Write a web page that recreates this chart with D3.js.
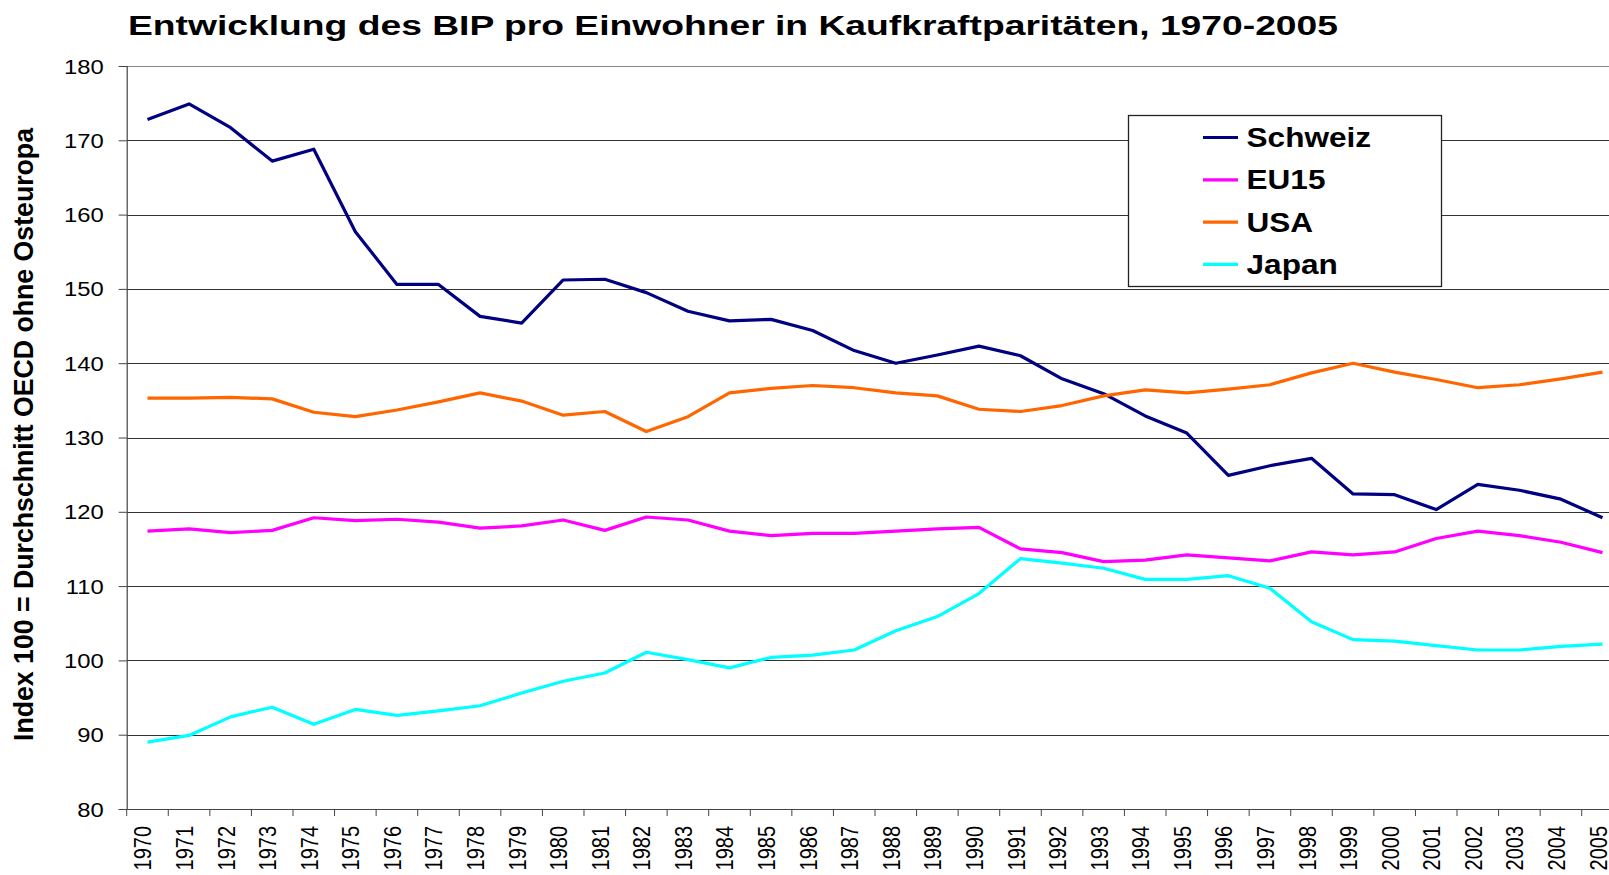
<!DOCTYPE html>
<html>
<head>
<meta charset="utf-8">
<script src="https://cdn.jsdelivr.net/npm/d3@7"></script>
<style>
  html, body { margin: 0; padding: 0; background: #fff; overflow: hidden; }
  svg { display: block; font-family: "Liberation Sans", Arial, sans-serif; }
</style>
</head>
<body>
<svg id="chart" width="1609" height="875"></svg>
<script>
// ---- Data ----
const years = ["1970","1971","1972","1973","1974","1975","1976","1977","1978","1979",
  "1980","1981","1982","1983","1984","1985","1986","1987","1988","1989",
  "1990","1991","1992","1993","1994","1995","1996","1997","1998","1999",
  "2000","2001","2002","2003","2004","2005"];

const schweiz = [172.8,174.9,171.7,167.2,168.8,157.7,150.6,150.6,146.3,145.4,
  151.2,151.3,149.5,147.0,145.7,145.9,144.4,141.7,140.0,141.1,
  142.3,141.0,137.9,135.9,132.9,130.6,124.9,126.2,127.2,122.4,
  122.3,120.3,123.7,122.9,121.7,119.2];

const eu15 = [117.4,117.7,117.2,117.5,119.2,118.8,119.0,118.6,117.8,118.1,
  118.9,117.5,119.3,118.9,117.4,116.8,117.1,117.1,117.4,117.7,
  117.9,115.0,114.5,113.3,113.5,114.2,113.8,113.4,114.6,114.2,
  114.6,116.4,117.4,116.8,115.9,114.5];

const usa = [135.3,135.3,135.4,135.2,133.4,132.8,133.7,134.8,136.0,134.9,
  133.0,133.5,130.8,132.8,136.0,136.6,137.0,136.7,136.0,135.6,
  133.8,133.5,134.3,135.6,136.4,136.0,136.5,137.1,138.7,140.0,
  138.8,137.8,136.7,137.1,137.9,138.8];

const japan = [89.0,89.9,92.4,93.7,91.4,93.4,92.6,93.2,93.9,95.6,
  97.2,98.3,101.1,100.1,99.0,100.4,100.7,101.4,104.0,105.9,
  109.0,113.7,113.1,112.4,110.9,110.9,111.4,109.7,105.2,102.8,
  102.6,102.0,101.4,101.4,101.9,102.2];

const seriesNames = ["Schweiz","EU15","USA","Japan"];
const seriesColors = ["#000080","#FF00FF","#FF6600","#00FFFF"];
const seriesValues = [schweiz, eu15, usa, japan];
const yTicks = [80,90,100,110,120,130,140,150,160,170,180];

const titleText = "Entwicklung des BIP pro Einwohner in Kaufkraftparitäten, 1970-2005";
const yLabelText = "Index 100 = Durchschnitt OECD ohne Osteuropa";

// ---- Layout ----
const svg = d3.select("#chart");
const pLeft = 126.7, pRight = 1623.3, pTop = 66, pBottom = 809;
const SX = 1.19; // horizontal glyph stretch seen in the reference

const x = d3.scaleBand().domain(years).range([pLeft, pRight]).padding(0);
const y = d3.scaleLinear().domain([80, 180]).range([pBottom, pTop]);

// Gridlines
svg.append("g").selectAll("line").data(yTicks.filter(d => d !== 80)).join("line")
  .attr("x1", pLeft).attr("x2", 1609)
  .attr("y1", d => Math.round(y(d)) + 0.5).attr("y2", d => Math.round(y(d)) + 0.5)
  .attr("stroke", d => d === 180 ? "#888" : "#333").attr("stroke-width", 1);

// Y axis
const yAxis = svg.append("g").attr("transform", `translate(${pLeft},0)`)
  .call(d3.axisLeft(y).tickValues(yTicks).tickSize(8).tickPadding(0));
yAxis.select(".domain").attr("stroke", "#444").attr("stroke-width", 1.2);
yAxis.selectAll(".tick line").attr("stroke", "#444");
yAxis.selectAll(".tick text")
  .attr("x", 0).attr("dy", "0.35em")
  .attr("transform", `translate(-23,0) scale(${SX},1)`)
  .attr("font-size", 20).attr("fill", "#000")
  .attr("font-family", "'Liberation Sans', Arial, sans-serif");

// X axis (labels at band centres, ticks at band boundaries)
const xAxis = svg.append("g").attr("transform", `translate(0,${pBottom})`)
  .call(d3.axisBottom(x).tickSize(0).tickPadding(0));
xAxis.select(".domain").attr("stroke", "#444").attr("stroke-width", 1.2);
xAxis.selectAll(".tick text")
  .attr("x", 0).attr("y", 0).attr("dy", 0)
  .attr("text-anchor", "end")
  .attr("transform", `translate(4,17) rotate(-90) scale(1,${SX})`)
  .attr("font-size", 20).attr("fill", "#000")
  .attr("font-family", "'Liberation Sans', Arial, sans-serif");
svg.append("g").selectAll("line").data(years).join("line")
  .attr("x1", d => x(d)).attr("x2", d => x(d))
  .attr("y1", pBottom).attr("y2", pBottom + 7)
  .attr("stroke", "#444").attr("stroke-width", 1);

// Lines
const line = d3.line().x((d, i) => x(years[i]) + x.bandwidth() / 2).y(d => y(d));
seriesValues.forEach((vals, k) => {
  svg.append("path").datum(vals)
    .attr("d", line)
    .attr("fill", "none")
    .attr("stroke", seriesColors[k])
    .attr("stroke-width", 3.2)
    .attr("stroke-linejoin", "round");
});

// Title
svg.append("text")
  .attr("x", 128).attr("y", 35)
  .attr("font-size", 28).attr("font-weight", "bold")
  .attr("textLength", 1210).attr("lengthAdjust", "spacingAndGlyphs")
  .text(titleText);

// Y axis label
svg.append("text")
  .attr("transform", `translate(33,434.5) rotate(-90) scale(1,${SX})`)
  .attr("text-anchor", "middle")
  .attr("font-size", 24).attr("font-weight", "bold")
  .attr("textLength", 613).attr("lengthAdjust", "spacingAndGlyphs")
  .text(yLabelText);

// Legend
const lg = svg.append("g");
lg.append("rect")
  .attr("x", 1128.5).attr("y", 115.5).attr("width", 313).attr("height", 171)
  .attr("fill", "#fff").attr("stroke", "#222").attr("stroke-width", 1.3);
seriesNames.forEach((name, k) => {
  const cy = 137.5 + k * 42.3;
  lg.append("line")
    .attr("x1", 1203).attr("x2", 1238).attr("y1", cy).attr("y2", cy)
    .attr("stroke", seriesColors[k]).attr("stroke-width", 3.2);
  lg.append("text")
    .attr("transform", `translate(1246.5,${cy + 9.5}) scale(1.17,1)`)
    .attr("font-size", 27).attr("font-weight", "bold")
    .text(name);
});
</script>
</body>
</html>
